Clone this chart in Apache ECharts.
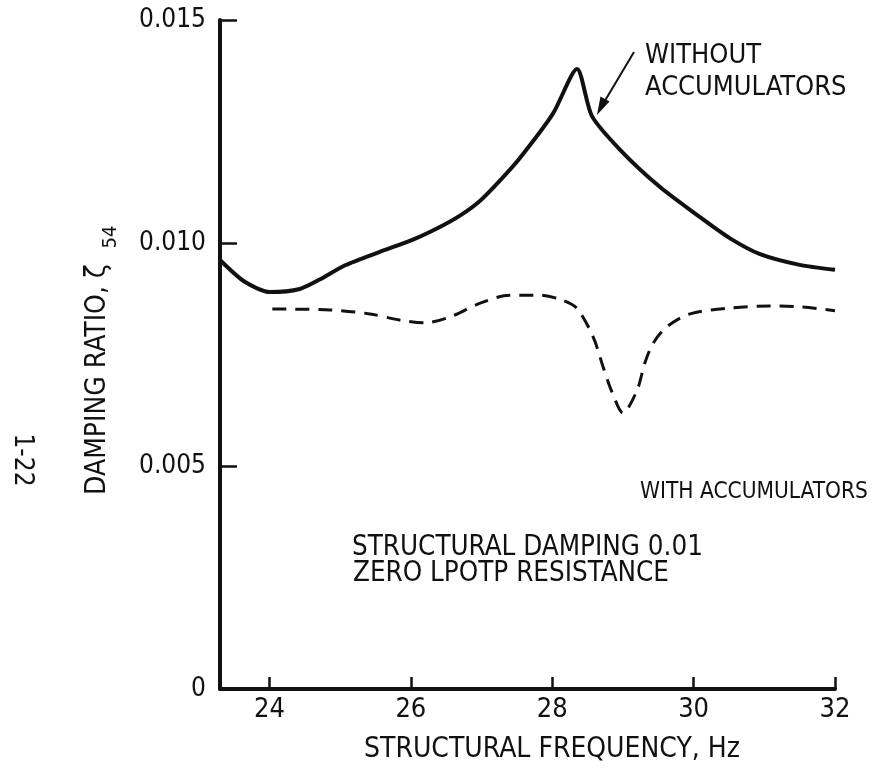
<!DOCTYPE html>
<html>
<head>
<meta charset="utf-8">
<script src="https://cdn.jsdelivr.net/npm/echarts@6/dist/echarts.min.js"></script>
<style>html,body{margin:0;padding:0;background:#fff}#c{width:872px;height:774px}</style>
</head>
<body>
<div id="c"></div>
<script>
// Data
const xTicks = [24, 26, 28, 30, 32];
const withoutX = [23.30, 23.65, 24.01, 24.43, 24.71, 25.07, 25.56, 26.02, 26.41, 26.70, 26.98, 27.26, 27.54, 28.01, 28.35, 28.56, 28.96, 29.52, 30.09, 30.51, 30.94, 31.50, 32.00];
const withoutY = [0.00962, 0.00913, 0.00890, 0.00897, 0.00918, 0.00950, 0.00980, 0.01007, 0.01036, 0.01062, 0.01095, 0.01140, 0.01190, 0.01290, 0.01390, 0.01285, 0.01209, 0.01126, 0.01058, 0.01011, 0.00975, 0.00951, 0.00940];
const withX = [24.04, 24.86, 25.42, 25.85, 26.20, 26.55, 26.98, 27.40, 27.83, 28.14, 28.35, 28.58, 28.72, 28.85, 29.00, 29.20, 29.31, 29.43, 29.62, 29.95, 30.51, 31.08, 31.50, 32.00];
const withY = [0.00852, 0.00850, 0.00841, 0.00827, 0.00821, 0.00834, 0.00865, 0.00883, 0.00883, 0.00872, 0.00853, 0.00789, 0.00722, 0.00664, 0.00619, 0.00670, 0.00731, 0.00776, 0.00812, 0.00841, 0.00854, 0.00859, 0.00857, 0.00848];

const FONT = '"Liberation Sans Narrow", "DejaVu Sans Condensed", sans-serif';
const INK = '#111';

const chart = echarts.init(document.getElementById('c'), null, {renderer: 'canvas'});
const pair = (xs, ys) => xs.map((x, i) => [x, ys[i]]);

chart.setOption({
  animation: false,
  backgroundColor: '#fff',
  grid: {left: 220, top: 20, width: 615, height: 669, outerBoundsMode: 'none', containLabel: false},
  xAxis: {
    type: 'value', min: 23.3, max: 32,
    axisLine: {show: true, onZero: false, lineStyle: {color: INK, width: 4}},
    axisTick: {show: true, inside: true, length: 12, customValues: xTicks, lineStyle: {color: INK, width: 2.5}},
    axisLabel: {customValues: xTicks, margin: 7, color: INK, fontFamily: FONT, fontSize: 27},
    splitLine: {show: false}
  },
  yAxis: {
    type: 'value', min: 0, max: 0.015, interval: 0.005,
    axisLine: {show: true, lineStyle: {color: INK, width: 4}},
    axisTick: {show: true, inside: true, length: 17, lineStyle: {color: INK, width: 2.5}},
    axisLabel: {margin: 14, color: INK, fontFamily: FONT, fontSize: 26,
      formatter: v => v === 0 ? '0' : v.toFixed(3)},
    splitLine: {show: false}
  },
  series: [
    {name: 'WITHOUT ACCUMULATORS', type: 'line', data: pair(withoutX, withoutY), smooth: 0.25,
      symbol: 'none', lineStyle: {color: INK, width: 4}},
    {name: 'WITH ACCUMULATORS', type: 'line', data: pair(withX, withY), smooth: 0.3,
      symbol: 'none', lineStyle: {color: INK, width: 3, type: [14, 9]}}
  ],
  graphic: [
    {type: 'text', left: 645, top: 42, style: {text: 'WITHOUT', font: '27px ' + FONT, fill: INK}},
    {type: 'text', left: 645, top: 74, style: {text: 'ACCUMULATORS', font: '27px ' + FONT, fill: INK}},
    {type: 'line', shape: {x1: 634, y1: 52, x2: 603, y2: 104}, style: {stroke: INK, lineWidth: 2}},
    {type: 'polygon', shape: {points: [[597, 115], [609.5, 101.5], [600.5, 96.5]]}, style: {fill: INK}},
    {type: 'text', left: 640, top: 481, style: {text: 'WITH ACCUMULATORS', font: '22.5px ' + FONT, fill: INK}},
    {type: 'text', left: 352, top: 534, style: {text: 'STRUCTURAL DAMPING 0.01', font: '27.5px ' + FONT, fill: INK}},
    {type: 'text', left: 353, top: 560, style: {text: 'ZERO LPOTP RESISTANCE', font: '27.5px ' + FONT, fill: INK}},
    {type: 'text', x: 552, y: 750, style: {text: 'STRUCTURAL FREQUENCY, Hz', font: '28px ' + FONT, fill: INK, textAlign: 'center', textVerticalAlign: 'middle'}},
    {type: 'text', x: 98, y: 495, rotation: Math.PI / 2,
      style: {text: 'DAMPING RATIO, ζ', font: '28px ' + FONT, fill: INK, textAlign: 'left', textVerticalAlign: 'middle'}},
    {type: 'text', x: 111, y: 237, rotation: Math.PI / 2,
      style: {text: '54', font: '20px ' + FONT, fill: INK, textAlign: 'center', textVerticalAlign: 'middle'}},
    {type: 'text', x: 22, y: 460, rotation: -Math.PI / 2,
      style: {text: '1-22', font: '26px ' + FONT, fill: INK, textAlign: 'center', textVerticalAlign: 'middle'}}
  ]
});
</script>
</body>
</html>
